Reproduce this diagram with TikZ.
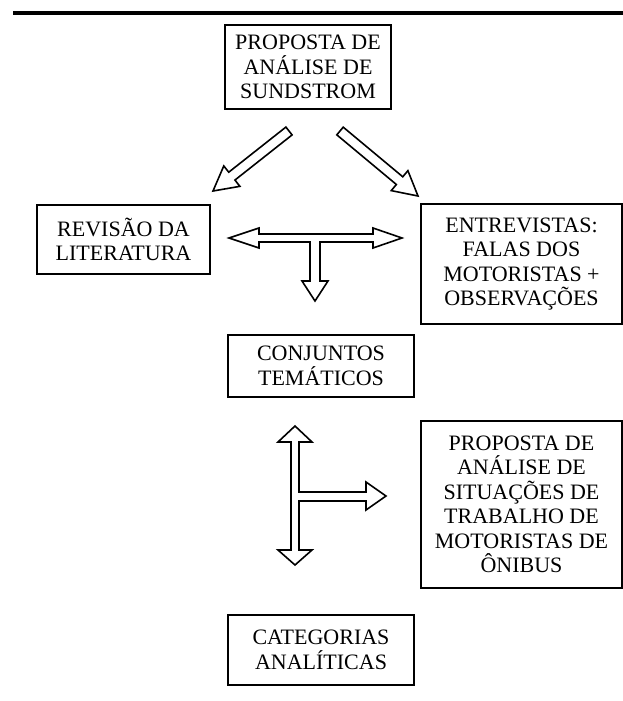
\documentclass[tikz,border=0pt]{standalone}
\usepackage{fontspec}
\setmainfont{Liberation Serif}
\usetikzlibrary{calc}

\tikzset{
  box/.style={draw, line width=1.6pt, align=center, inner sep=0pt,
    font=\fontsize{22}{24.5}\selectfont},
  hollow/.style={draw, line width=1.6pt, line join=miter, fill=white},
}
% hollow block arrow from tail #1 to tip #2
\newcommand{\hollowarrow}[2]{%
  \coordinate (hb) at ($(#2)!24pt!(#1)$);
  \draw[hollow] ($(#1)!5pt!90:(#2)$) -- ($(hb)!5pt!90:(#2)$) -- ($(hb)!13pt!90:(#2)$) -- (#2)
    -- ($(hb)!13pt!-90:(#2)$) -- ($(hb)!5pt!-90:(#2)$) -- ($(#1)!5pt!-90:(#2)$) -- cycle;}

\begin{document}
\begin{tikzpicture}[x=1pt, y=-1pt]
    \useasboundingbox (0,0) rectangle (623,701);
    \draw[line width=4pt] (13,13) -- (623,13);

    \node[box, minimum width=166pt, minimum height=84pt]  (sund) at (308,67)      {PROPOSTA DE\\ANÁLISE DE\\SUNDSTROM};
    \node[box, minimum width=173pt, minimum height=69pt]  (rev)  at (123.5,239.5) {REVISÃO DA\\LITERATURA};
    \node[box, minimum width=201pt, minimum height=120pt] (entr) at (521.5,264)   {ENTREVISTAS:\\FALAS DOS\\MOTORISTAS +\\OBSERVAÇÕES};
    \node[box, minimum width=186pt, minimum height=62pt]  (conj) at (321,366)     {CONJUNTOS\\TEMÁTICOS};
    \node[box, minimum width=201pt, minimum height=167pt] (sit)  at (521.5,504.5) {PROPOSTA DE\\ANÁLISE DE\\SITUAÇÕES DE\\TRABALHO DE\\MOTORISTAS DE\\ÔNIBUS};
    \node[box, minimum width=186pt, minimum height=70pt]  (cat)  at (321,650)     {CATEGORIAS\\ANALÍTICAS};

    % diagonal arrows out of the top box
    \coordinate (l0) at (289,131);
    \coordinate (l1) at (213,191);
    \coordinate (r0) at (340,131);
    \coordinate (r1) at (418,196);
    \hollowarrow{l0}{l1}
    \hollowarrow{r0}{r1}

    % T arrow between the boxes of the second row
    \draw[hollow] (229,238) -- (259,228) -- (259,234) -- (373,234) -- (373,228) -- (402,238)
      -- (373,248) -- (373,242) -- (320,242) -- (320,281) -- (328,281) -- (315,301)
      -- (302,281) -- (310,281) -- (310,242) -- (259,242) -- (259,248) -- cycle;

    % T arrow below the themes box
    \draw[hollow] (295,426) -- (312,442) -- (299,442) -- (299,492) -- (366,492) -- (366,482)
      -- (386,496) -- (366,510) -- (366,501) -- (299,501) -- (299,550) -- (312,550)
      -- (295,565) -- (278,550) -- (291,550) -- (291,442) -- (278,442) -- cycle;
\end{tikzpicture}
\end{document}
